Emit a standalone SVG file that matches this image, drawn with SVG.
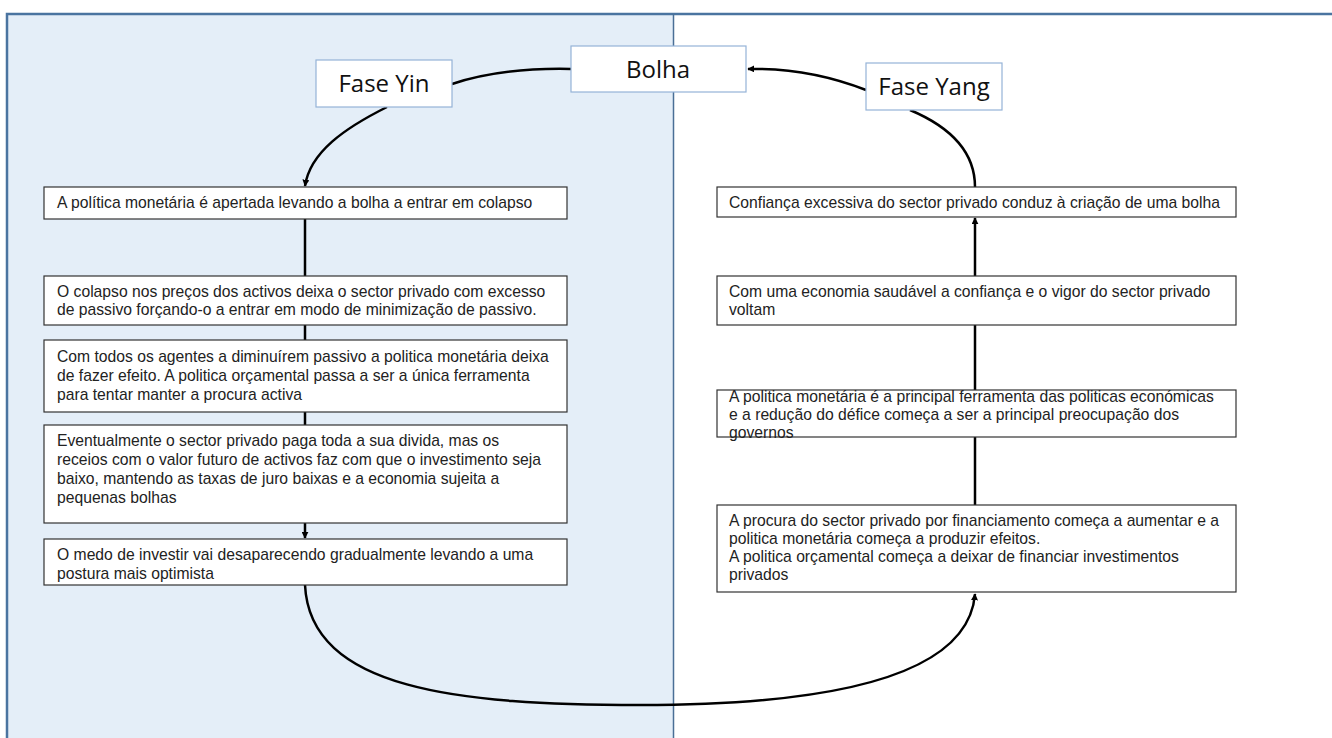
<svg xmlns="http://www.w3.org/2000/svg" width="1332" height="738" viewBox="0 0 1332 738">
<defs>
<marker id="ah" viewBox="0 0 10 10" refX="9" refY="5" markerWidth="7" markerHeight="7" markerUnits="userSpaceOnUse" orient="auto">
<path d="M0,0 L10,5 L0,10 z" fill="#000"/>
</marker>
<style>
.phase{fill:#fff;stroke:#95B3D7;stroke-width:1.2}
.ptxt{font-family:"Open Sans","Liberation Sans",sans-serif;font-size:24px;fill:#111;text-anchor:middle}
.box{fill:#fff;stroke:#333;stroke-width:1.2}
.t{font-family:"Liberation Sans",Arial,sans-serif;font-size:15.7px;fill:#222}
.c{fill:none;stroke:#000;stroke-width:2.5}
.ca{fill:none;stroke:#000;stroke-width:2.5;marker-end:url(#ah)}
</style>
</defs>
<rect x="0" y="0" width="1332" height="738" fill="#fff"/>
<rect x="7" y="14" width="666" height="730" fill="#E4EEF8"/>
<path d="M7,745 V14 H1340" fill="none" stroke="#4A74A0" stroke-width="2.5"/>
<line x1="673.5" y1="14" x2="673.5" y2="745" stroke="#4A6F96" stroke-width="1.5"/>

<g id="connectors">
<path class="c" d="M571,69 C525,68 485,73 452,84"/>
<path class="ca" d="M387,107 C345,128 310,152 305,186"/>
<path class="c" d="M305,219 V276"/>
<path class="c" d="M305,325 V340"/>
<path class="c" d="M305,412 V425"/>
<path class="ca" d="M305,523 V538"/>
<path class="ca" d="M305,585 C310,690 460,705 640,705 C820,705 968,680 975,594"/>
<path class="c" d="M975,505 V437"/>
<path class="c" d="M975,390 V325"/>
<path class="ca" d="M975,276 V218"/>
<path class="c" d="M975,187 C975,150 948,126 910,110"/>
<path class="ca" d="M866,90 C830,76 790,68 748,69"/>
</g>

<g id="bolha">
<rect class="phase" x="571" y="46" width="175" height="46"/>
<text class="ptxt" x="658" y="78">Bolha</text>
</g>
<g id="fase-yin">
<rect class="phase" x="316" y="60" width="136" height="47"/>
<text class="ptxt" x="384" y="92">Fase Yin</text>
</g>
<g id="fase-yang">
<rect class="phase" x="866" y="63" width="136" height="47"/>
<text class="ptxt" x="934" y="95">Fase Yang</text>
</g>

<g id="l1">
<rect class="box" x="44" y="187" width="523" height="32"/>
<text class="t" x="57" y="208">A política  monetária é apertada levando a bolha a entrar em colapso</text>
</g>
<g id="l2">
<rect class="box" x="44" y="276" width="523" height="49"/>
<text class="t" x="57" y="297">O colapso nos preços dos activos deixa o sector privado com excesso</text>
<text class="t" x="57" y="315">de passivo forçando-o a entrar em modo de minimização de passivo.</text>
</g>
<g id="l3">
<rect class="box" x="44" y="340" width="523" height="72"/>
<text class="t" x="57" y="362">Com todos os agentes a diminuírem  passivo a politica  monetária deixa</text>
<text class="t" x="57" y="381">de fazer efeito. A politica orçamental passa a ser a única ferramenta</text>
<text class="t" x="57" y="400">para tentar manter a procura activa</text>
</g>
<g id="l4">
<rect class="box" x="44" y="425" width="523" height="98"/>
<text class="t" x="57" y="446">Eventualmente o sector privado paga toda a sua divida, mas os</text>
<text class="t" x="57" y="465">receios com o valor futuro de activos faz com que o investimento seja</text>
<text class="t" x="57" y="484">baixo, mantendo as taxas de juro baixas e a economia sujeita a</text>
<text class="t" x="57" y="503">pequenas bolhas</text>
</g>
<g id="l5">
<rect class="box" x="44" y="539" width="523" height="46"/>
<text class="t" x="57" y="560">O medo de investir vai desaparecendo gradualmente levando a uma</text>
<text class="t" x="57" y="579">postura mais optimista</text>
</g>

<g id="r1">
<rect class="box" x="717" y="187" width="519" height="30"/>
<text class="t" x="729" y="208">Confiança excessiva  do sector privado conduz à criação de uma bolha</text>
</g>
<g id="r2">
<rect class="box" x="717" y="276" width="519" height="49"/>
<text class="t" x="729" y="297">Com uma economia saudável a confiança e o vigor do sector privado</text>
<text class="t" x="729" y="315">voltam</text>
</g>
<g id="r3">
<rect class="box" x="717" y="390" width="519" height="47"/>
<text class="t" x="729" y="402">A politica monetária é a principal ferramenta das politicas económicas</text>
<text class="t" x="729" y="420">e a redução do défice começa a ser a principal preocupação dos</text>
<text class="t" x="729" y="438">governos</text>
</g>
<g id="r4">
<rect class="box" x="717" y="505" width="519" height="87"/>
<text class="t" x="729" y="526">A procura do sector privado por financiamento começa a aumentar e a</text>
<text class="t" x="729" y="544">politica monetária começa a produzir efeitos.</text>
<text class="t" x="729" y="562">A politica orçamental começa a deixar de financiar investimentos</text>
<text class="t" x="729" y="580">privados</text>
</g>
</svg>
